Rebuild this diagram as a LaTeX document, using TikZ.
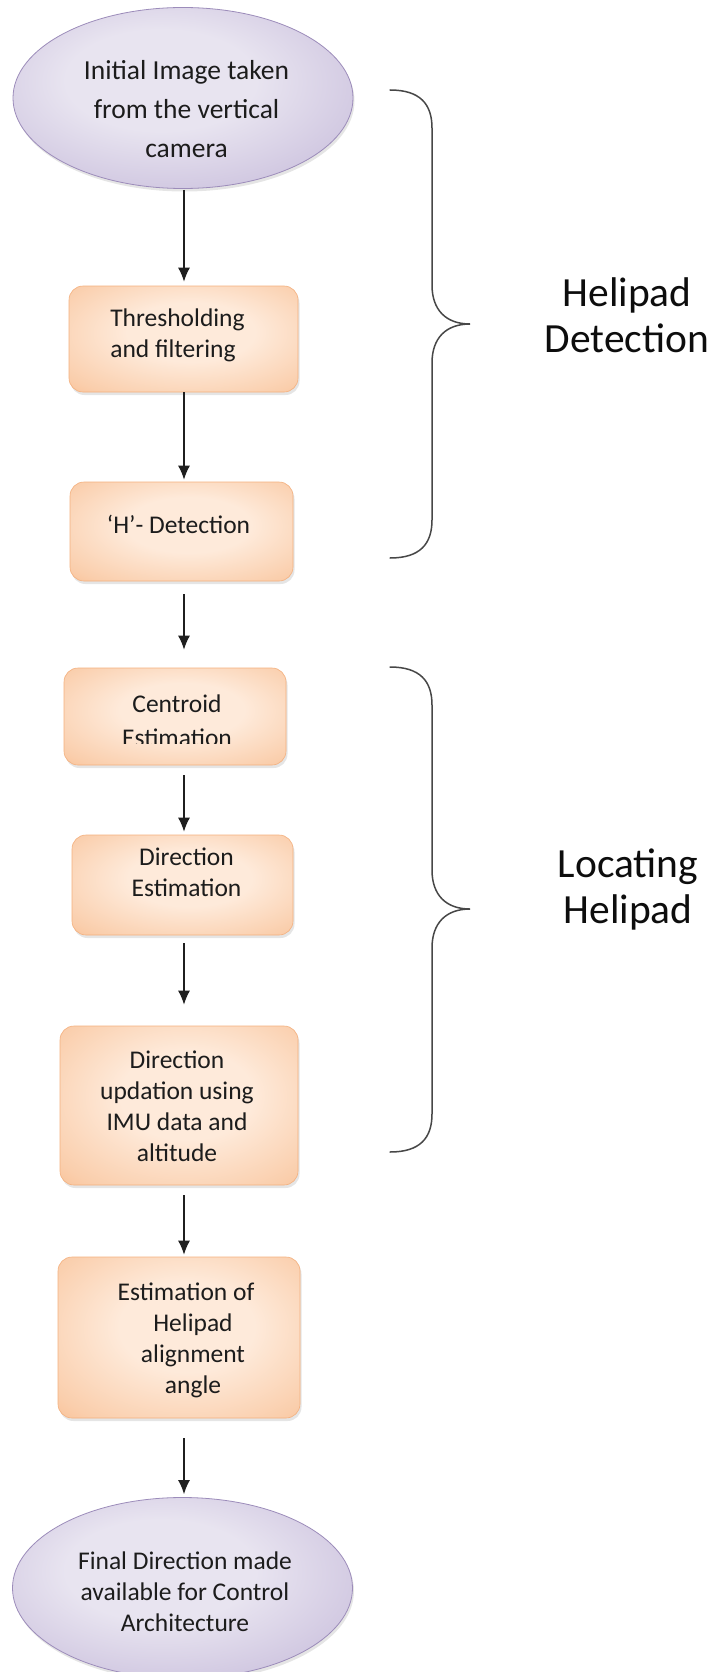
\documentclass[tikz,border=0pt]{standalone}
\usepackage{fontspec}
\setmainfont{Carlito}
\usepackage{trimclip}
\usetikzlibrary{shapes.geometric,arrows.meta,shadows}

\definecolor{lavin}{RGB}{232,228,240}
\definecolor{lavmid}{RGB}{204,194,222}
\definecolor{lavout}{RGB}{170,154,198}
\definecolor{lavdraw}{RGB}{156,140,186}
\definecolor{orin}{RGB}{254,234,218}
\definecolor{ormid}{RGB}{250,206,172}
\definecolor{orout}{RGB}{246,172,116}
\definecolor{ordraw}{RGB}{244,176,126}
\definecolor{txt}{RGB}{28,28,28}

\pgfdeclareradialshading{lavshade}{\pgfpoint{-4bp}{6bp}}{color(0bp)=(lavin); color(14bp)=(lavin); color(33bp)=(lavmid); color(49bp)=(lavout); color(75bp)=(lavout)}
\pgfdeclareradialshading{orshade}{\pgfpoint{2bp}{4bp}}{color(0bp)=(orin); color(14bp)=(orin); color(33bp)=(ormid); color(49bp)=(orout); color(75bp)=(orout)}

\newcommand{\ntext}[3]{\raisebox{#2}[\height][\depth]{\hspace*{#1}\begin{tabular}{@{}c@{}}#3\end{tabular}}}

\begin{document}
\begin{tikzpicture}[x=1pt,y=-1pt,
  oval/.style={ellipse, minimum width=340pt, minimum height=181pt, inner sep=0pt,
    shading=lavshade, draw=lavdraw, line width=0.8pt,
    drop shadow={opacity=0.2, shadow xshift=1.5pt, shadow yshift=-3pt},
    align=center, text=txt},
  stepbox/.style={rectangle, rounded corners=14pt, inner sep=0pt,
    shading=orshade, draw=ordraw, line width=0.6pt,
    drop shadow={opacity=0.2, shadow xshift=1.5pt, shadow yshift=-3pt},
    align=center, text=txt, font=\fontsize{25.5}{31}\selectfont},
  flow/.style={-{Latex[length=14pt,width=12pt]}, line width=1.4pt, draw=black!88},
  bracepath/.style={line width=1.5pt, draw=black!72, line cap=round},
  side/.style={align=center, text=black!95, font=\fontsize{41.5}{46}\selectfont}
]
\fill[white] (0,0) rectangle (715,1672);
\useasboundingbox (0,0) rectangle (715,1672);

\coordinate (axis) at (184,0);

% nodes
\node[oval, font=\fontsize{27.5}{39}\selectfont] (start) at (183,98)
  {\ntext{7pt}{-13pt}{Initial Image taken\\from the vertical\\camera}};
\node[stepbox, minimum width=229pt, minimum height=106pt] (thr) at (183.5,339)
  {\raisebox{3pt}[\height][\depth]{\begin{tabular}{@{}l@{}}Thresholding\\and filtering\end{tabular}\hspace*{12pt}}};
\node[stepbox, minimum width=223pt, minimum height=99pt] (hdet) at (181.5,531.5)
  {\ntext{-6pt}{4.5pt}{‘H’- Detection}};
\node[stepbox, minimum width=222pt, minimum height=97pt] (cent) at (175,716.5)
  {\ntext{4pt}{-5.5pt}{Centroid\\\clipbox{0pt 3pt 0pt 0pt}{Estimation}}};
\node[stepbox, minimum width=221pt, minimum height=100pt] (dir) at (182.5,885)
  {\ntext{8pt}{10pt}{Direction\\Estimation}};
\node[stepbox, minimum width=238pt, minimum height=159pt] (upd) at (179,1105.5)
  {\ntext{-4pt}{-3.5pt}{Direction\\updation using\\IMU data and\\altitude}};
\node[stepbox, minimum width=242pt, minimum height=161pt] (align) at (179,1337.5)
  {\ntext{14pt}{-3.5pt}{Estimation of\\\hspace*{14pt}Helipad\\\hspace*{14pt}alignment\\\hspace*{14pt}angle}};
\node[oval, font=\fontsize{25.5}{31}\selectfont] (final) at (182.5,1588)
  {\ntext{5pt}{-6pt}{Final Direction made\\available for Control\\Architecture}};

% side labels
\node[side] (lab1) at (627,320) {\ntext{0pt}{0pt}{Helipad\\Detection}};
\node[side] (lab2) at (628,891.5) {\ntext{0pt}{0pt}{Locating\\Helipad}};

% connectors
\draw[flow, shorten <=1pt, shorten >=4pt] (start.south -| axis) -- (thr.north -| axis);
\draw[flow, shorten >=2pt] (thr.south -| axis) -- (hdet.north -| axis);
\draw[flow, shorten <=13pt, shorten >=18pt] (hdet.south -| axis) -- (cent.north -| axis);
\draw[flow, shorten <=10pt, shorten >=3pt] (cent.south -| axis) -- (dir.north -| axis);
\draw[flow, shorten <=8pt, shorten >=21pt] (dir.south -| axis) -- (upd.north -| axis);
\draw[flow, shorten <=10pt, shorten >=2pt] (upd.south -| axis) -- (align.north -| axis);
\draw[flow, shorten <=20pt, shorten >=3pt] (align.south -| axis) -- (final.north -| axis);

% braces
\draw[bracepath] (390,90) .. controls (420,90) and (432,104) .. (432,128)
  -- (432,285) .. controls (432,310) and (446,324) .. (470,324)
  .. controls (446,324) and (432,338) .. (432,363)
  -- (432,520) .. controls (432,544) and (420,558) .. (390,558);
\draw[bracepath] (390,667) .. controls (420,667) and (432,681) .. (432,705)
  -- (432,870) .. controls (432,895) and (446,909) .. (470,909)
  .. controls (446,909) and (432,923) .. (432,948)
  -- (432,1114) .. controls (432,1138) and (420,1152) .. (390,1152);
\end{tikzpicture}
\end{document}
